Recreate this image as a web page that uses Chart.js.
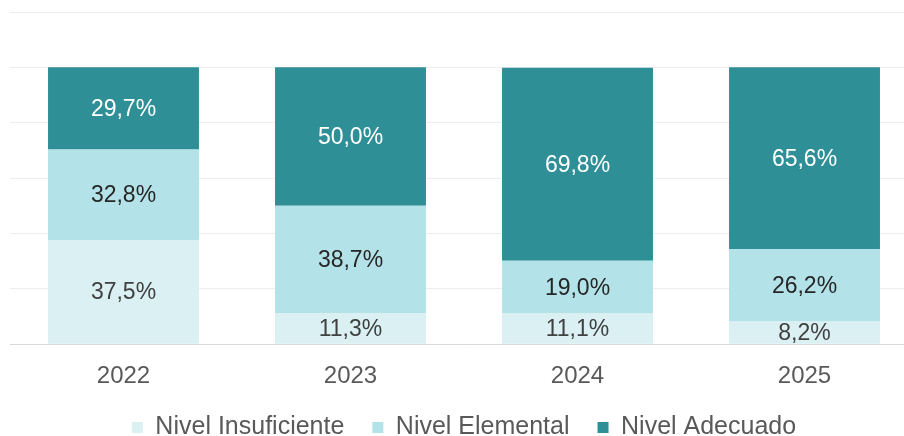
<!DOCTYPE html>
<html>
<head>
<meta charset="utf-8">
<script src="https://cdn.jsdelivr.net/npm/chart.js@4"></script>
<style>
  html, body { margin: 0; padding: 0; background: #fff; overflow: hidden; }
  .wrap { width: 918px; height: 464px; position: relative; }
</style>
</head>
<body>
<div class="wrap"><canvas id="chart"></canvas></div>
<script>
// datos del gráfico
const years = ['2022', '2023', '2024', '2025'];
const insuficiente = [37.5, 11.3, 11.1, 8.2];
const elemental = [32.8, 38.7, 19.0, 26.2];
const adecuado = [29.7, 50.0, 69.8, 65.6];
const seriesNames = ['Nivel Insuficiente', 'Nivel Elemental', 'Nivel Adecuado'];

const colors = ['#DAF0F3', '#B3E3E8', '#2E8F97'];
const labelColors = ['#404040', '#262626', '#FFFFFF'];
const fontFamily = '"Liberation Sans", Arial, sans-serif';

// etiquetas de valor dentro de cada segmento
const valueLabels = {
    id: 'valueLabels',
    afterDatasetsDraw(chart) {
        const ctx = chart.ctx;
        ctx.save();
        ctx.font = '23px ' + fontFamily;
        ctx.textAlign = 'center';
        ctx.textBaseline = 'middle';
        chart.data.datasets.forEach((ds, i) => {
            const meta = chart.getDatasetMeta(i);
            meta.data.forEach((bar, j) => {
                const v = ds.data[j];
                const y = (bar.y + bar.base) / 2;
                ctx.fillStyle = labelColors[i];
                ctx.fillText(v.toFixed(1).replace('.', ',') + '%', bar.x, y + 1);
            });
        });
        ctx.restore();
    }
};

// subir un poco la leyenda hacia las etiquetas del eje
const legendShift = {
    id: 'legendShift',
    afterLayout(chart) {
        if (chart.legend) {
            chart.legend.top -= 14;
            chart.legend.bottom -= 14;
        }
    }
};

const ctx = document.getElementById('chart').getContext('2d');
new Chart(ctx, {
    type: 'bar',
    data: {
        labels: years,
        datasets: [
            { label: seriesNames[0], data: insuficiente, backgroundColor: colors[0] },
            { label: seriesNames[1], data: elemental, backgroundColor: colors[1] },
            { label: seriesNames[2], data: adecuado, backgroundColor: colors[2] }
        ]
    },
    options: {
        responsive: true,
        maintainAspectRatio: false,
        animation: false,
        layout: { padding: { left: 10, right: 0, top: 12, bottom: 0 } },
        datasets: {
            bar: { categoryPercentage: 1, barPercentage: 0.665 }
        },
        scales: {
            x: {
                stacked: true,
                grid: { display: false },
                border: { color: '#D9D9D9', width: 1 },
                ticks: {
                    color: '#595959',
                    padding: 10,
                    font: { family: fontFamily, size: 24 }
                }
            },
            y: {
                stacked: true,
                min: 0,
                max: 120,
                ticks: { display: false, stepSize: 20 },
                grid: { color: '#EEEEEE', drawTicks: false },
                border: { display: false }
            }
        },
        plugins: {
            legend: {
                position: 'bottom',
                labels: {
                    color: '#595959',
                    boxWidth: 11,
                    boxHeight: 11,
                    padding: 28,
                    font: { family: fontFamily, size: 25 }
                }
            },
            tooltip: { enabled: false },
            title: { display: false }
        }
    },
    plugins: [valueLabels, legendShift]
});
</script>
</body>
</html>
